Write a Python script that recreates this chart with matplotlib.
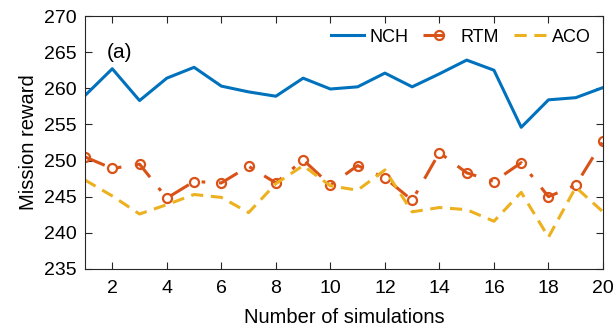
import matplotlib
matplotlib.use('Agg')
import matplotlib.pyplot as plt

plt.rcParams['font.family'] = ['Liberation Sans', 'DejaVu Sans']

sims = list(range(1, 21))
nch = [259.0, 262.7, 258.3, 261.4, 262.9, 260.3, 259.5, 258.9, 261.4, 259.9,
       260.2, 262.1, 260.2, 262.0, 263.9, 262.5, 254.6, 258.4, 258.7, 260.1]
rtm = [250.5, 248.9, 249.5, 244.8, 247.1, 246.9, 249.2, 246.9, 250.1, 246.6,
       249.3, 247.6, 244.5, 251.1, 248.3, 247.1, 249.7, 245.0, 246.6, 252.7]
aco = [247.3, 245.1, 242.6, 243.9, 245.3, 244.9, 242.8, 246.8, 249.3, 246.5,
       245.9, 248.7, 242.9, 243.5, 243.2, 241.6, 245.6, 239.4, 246.3, 242.9]

c_nch = '#0072BD'
c_rtm = '#D95319'
c_aco = '#EDB120'

fig = plt.figure(figsize=(6.13, 3.30), dpi=100)
ax = fig.add_axes([0.1387, 0.185, 0.8450, 0.7665])

ax.plot(sims, nch, '-', color=c_nch, lw=2.2, label='NCH')
ax.plot(sims, rtm, '-.', color=c_rtm, lw=2.2, marker='o', ms=6.5,
        mfc='none', mew=1.6, label='RTM', dashes=(7, 4.5, 1.2, 4.5))
ax.plot(sims, aco, '--', color=c_aco, lw=2.2, label='ACO', dashes=(4, 2.5))

ax.set_xlim(1, 20)
ax.set_ylim(235, 270)
ax.set_xticks(range(2, 21, 2))
ax.set_yticks(range(235, 271, 5))
ax.tick_params(direction='in', top=True, right=True, labelsize=14,
               length=5, width=0.8, colors='#262626', labelcolor='black')
ax.tick_params(axis='x', pad=8)
ax.tick_params(axis='y', pad=6)
for s in ax.spines.values():
    s.set_color('#262626')
    s.set_linewidth(0.8)

ax.set_xlabel('Number of simulations', fontsize=14.5, labelpad=8)
ax.set_ylabel('Mission reward', fontsize=14.5, labelpad=4)
ax.text(2.25, 264.9, '(a)', fontsize=15, ha='center', va='center')

ax.legend(loc='upper right', ncol=3, frameon=False, fontsize=13,
          handlelength=1.8, columnspacing=0.8, handletextpad=0.3,
          borderaxespad=0.3)

plt.savefig('out.png', dpi=100)
plt.close()
